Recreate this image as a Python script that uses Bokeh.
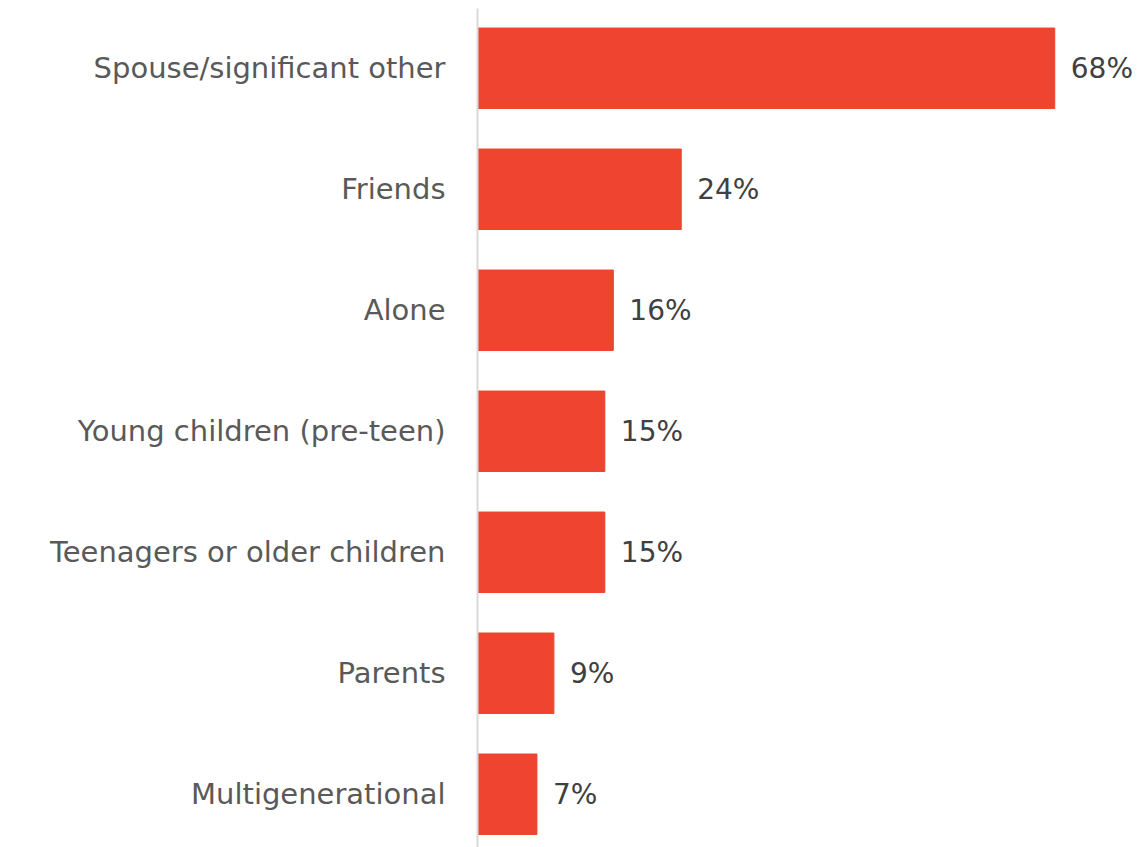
from bokeh.plotting import figure
from bokeh.models import Range1d, ColumnDataSource, FixedTicker
from bokeh.core.properties import value
from bokeh.embed import file_html
from bokeh.resources import INLINE

categories = ["Spouse/significant other", "Friends", "Alone", "Young children (pre-teen)",
              "Teenagers or older children", "Parents", "Multigenerational"]
values = [68, 24, 16, 15, 15, 9, 7]
labels = [f"{v}%" for v in values]
idx = list(range(len(categories)))

src = ColumnDataSource(dict(y=idx, v=values, lab=labels, cat=categories))

p = figure(width=1140, height=847, output_backend="svg", toolbar_location=None,
           x_range=Range1d(0, 78.1), y_range=Range1d(6.44, -0.494),
           min_border_left=477, min_border_right=0, min_border_top=8, min_border_bottom=0)
p.hbar(y="y", right="v", left=0, height=0.665, color="#EE4430", source=src)
p.text(x="v", y="y", text="lab", x_offset=16, text_baseline="middle", text_align="left",
       text_font=value("DejaVu Sans"), text_font_size="28px", text_color="#404040", source=src)

p.xaxis.visible = False
p.xgrid.visible = False
p.ygrid.visible = False
p.outline_line_color = None
ya = p.yaxis[0]
ya.ticker = FixedTicker(ticks=idx)
ya.major_label_overrides = {i: c for i, c in zip(idx, categories)}
ya.major_tick_line_color = None
ya.minor_tick_line_color = None
ya.axis_line_color = "#d9d9d9"
ya.axis_line_width = 2
ya.major_label_standoff = 26
ya.major_label_text_font = "DejaVu Sans"
ya.major_label_text_font_size = "29px"
ya.major_label_text_color = "#595959"

open("out.html", "w").write(file_html(p, INLINE))
